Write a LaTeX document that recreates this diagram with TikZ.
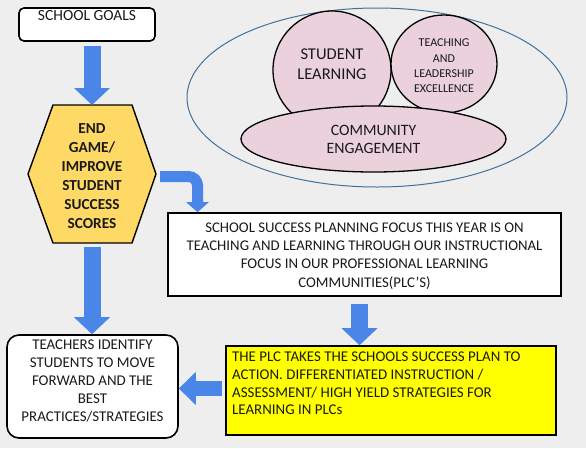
\documentclass[tikz,border=0pt]{standalone}
\usepackage{fontspec}
\setmainfont{Carlito}
\usetikzlibrary{arrows.meta, positioning, shapes.geometric, calc}
\definecolor{paper}{HTML}{EEEEEE}
\definecolor{arrowblue}{HTML}{4A86E8}
\definecolor{gold}{HTML}{FFD966}
\definecolor{pinkfill}{HTML}{EAD1DC}
\definecolor{ringblue}{HTML}{41719C}
\definecolor{plcyellow}{HTML}{FFFF00}
\definecolor{inkgrey}{HTML}{1A1A1A}
\tikzset{
  whitebox/.style={rectangle, draw=black, line width=1.6pt, fill=white, inner sep=0pt},
  roundbox/.style={whitebox, rounded corners=12pt},
  yellowbox/.style={whitebox, fill=plcyellow},
  pinkshape/.style={ellipse, draw=black, line width=1.3pt, fill=pinkfill, inner sep=0pt},
  hexshape/.style={draw=black, line width=1.4pt, fill=gold, line join=miter},
  bodytext/.style={align=center, text=inkgrey, inner sep=0pt, font=\fontsize{14.9}{18}\selectfont},
  bigarrow/.style={arrowblue, line width=17pt, -{Triangle[length=17pt, width=35pt]}},
  smallarrow/.style={arrowblue, line width=11pt, -{Triangle[length=10pt, width=22pt]}},
}

\begin{document}
\begin{tikzpicture}[x=1pt, y=-1pt]
\useasboundingbox[fill=paper] (0,0) rectangle (586,448);

% goals and end game
\node[whitebox, rounded corners=5pt, minimum width=136pt, minimum height=33pt] (goals) at (87,24.5) {};
\node[bodytext, font=\fontsize{15.5}{18}\selectfont] (goalstxt) at (87,16) {SCHOOL GOALS};
\draw[hexshape] (53,105) -- (132,105) -- (156,174) -- (132,243) -- (53,243) -- (28,174) -- cycle;
\coordinate (hextop) at (92,105);
\coordinate (hexbot) at (92,247);
\coordinate (hexright) at (160,176.5);
\node[align=center, inner sep=0pt, text=inkgrey, font=\bfseries\fontsize{15.3}{19}\selectfont] (endgame) at (92,176) {END\\GAME/\\IMPROVE\\STUDENT\\SUCCESS\\SCORES};

% focus areas
\node[ellipse, draw=ringblue, line width=1pt, minimum width=380pt, minimum height=179pt] (focus) at (377,97.5) {};
\node[pinkshape, minimum width=118pt, minimum height=118pt] (student) at (332,70) {};
\node[pinkshape, minimum width=106pt, minimum height=98pt] (teaching) at (444,64) {};
\node[pinkshape, minimum width=265pt, minimum height=66pt] (community) at (373.5,139) {};
\node[bodytext, font=\fontsize{16.5}{20}\selectfont] (studenttxt) at (332,64) {STUDENT\\LEARNING};
\node[bodytext, font=\fontsize{12}{15.3}\selectfont] (teachingtxt) at (444,66) {TEACHING\\AND\\LEADERSHIP\\EXCELLENCE};
\node[bodytext, font=\fontsize{15.8}{18}\selectfont] (communitytxt) at (373.5,139) {COMMUNITY\\ENGAGEMENT};

% plan, plc, teachers
\node[whitebox, minimum width=393pt, minimum height=83pt] (ssbox) at (364.5,254.5) {};
\node[bodytext, font=\fontsize{14.8}{18.2}\selectfont] (sstxt) at (364.5,256) {SCHOOL SUCCESS PLANNING FOCUS THIS YEAR IS ON\\TEACHING AND LEARNING THROUGH OUR INSTRUCTIONAL\\FOCUS IN OUR PROFESSIONAL LEARNING\\COMMUNITIES(PLC’S)};
\node[yellowbox, minimum width=330pt, minimum height=89pt] (plcbox) at (391,390.5) {};
\node[bodytext, align=left, anchor=north west, font=\fontsize{14.9}{17.7}\selectfont] (plctxt) at (232,352) {THE PLC TAKES THE SCHOOLS SUCCESS PLAN TO\\ACTION. DIFFERENTIATED INSTRUCTION /\\ASSESSMENT/ HIGH YIELD STRATEGIES FOR\\LEARNING IN PLCs};
\node[roundbox, minimum width=171pt, minimum height=103pt] (teachers) at (92.5,386.5) {};
\node[bodytext] (teacherstxt) at (92.5,381) {TEACHERS IDENTIFY\\STUDENTS TO MOVE\\FORWARD AND THE\\BEST\\PRACTICES/STRATEGIES};

% arrows
\coordinate (bend) at (197.5,176.5);
\coordinate (drop) at (359.5,304);
\coordinate (push) at (222,388.5);
\draw[bigarrow] ($(goals.south -| hextop)+(0,4)$) -- (hextop);
\draw[smallarrow, rounded corners=9pt] (hexright) -- (bend) -- (bend |- ssbox.north);
\draw[bigarrow] (hexbot) -- (hexbot |- teachers.north);
\draw[bigarrow] (drop) -- (drop |- plcbox.north);
\draw[bigarrow, line width=15pt, -{Triangle[length=17pt, width=32pt]}] (push) -- (push -| teachers.east);
\end{tikzpicture}
\end{document}
